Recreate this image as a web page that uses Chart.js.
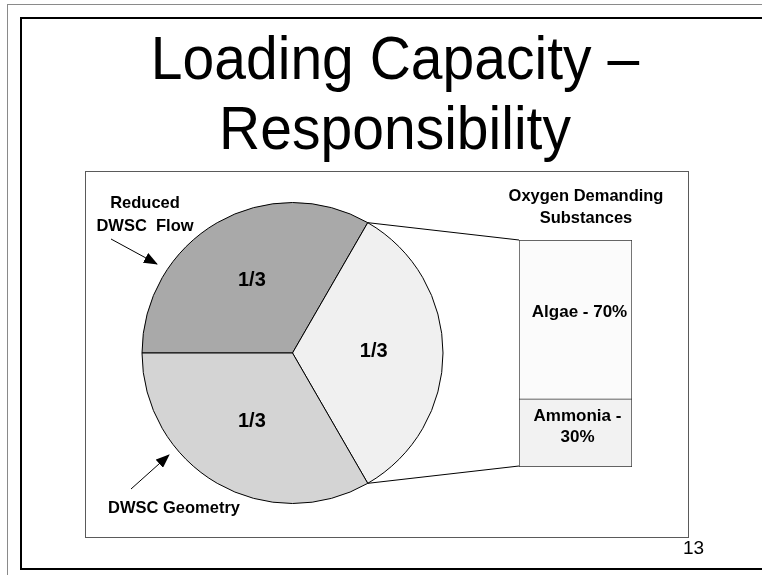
<!DOCTYPE html>
<html>
<head>
<meta charset="utf-8">
<script src="https://cdn.jsdelivr.net/npm/chart.js@4/dist/chart.umd.min.js"></script>
<style>
  html, body { margin: 0; padding: 0; background: #fff; }
  body { width: 762px; height: 575px; position: relative; overflow: hidden; font-family: "Liberation Sans", Arial, sans-serif; color: #000; }
  .abs { position: absolute; }
  #gray-frame { left: 7px; top: 4px; width: 800px; height: 600px; border-left: 1px solid #8a8a8a; border-top: 1px solid #8a8a8a; }
  #black-frame { left: 20px; top: 17px; width: 800px; height: 549px; border: 2px solid #000; }
  #title { left: 0; top: 23px; width: 790px; text-align: center; font-size: 61px; line-height: 70px; transform: scaleX(0.935); transform-origin: 395px 0; }
  #chart-box { left: 85px; top: 171px; width: 602px; height: 365px; border: 1px solid #5a5a5a; }
  .lbl { position: absolute; transform: translate(-50%, -50%) scaleX(0.97); white-space: nowrap; text-align: center; font-weight: bold; font-size: 17px; line-height: 22px; }
  #page-no { left: 683px; top: 537px; font-size: 19px; }
</style>
</head>
<body>
<div id="gray-frame" class="abs"></div>
<div id="black-frame" class="abs"></div>
<div id="title" class="abs">Loading Capacity –<br>Responsibility</div>
<div id="chart-box" class="abs"></div>
<canvas id="pieChart" class="abs" width="762" height="575" style="left:0;top:0"></canvas>
<canvas id="odsChart" class="abs"></canvas>
<svg class="abs" width="762" height="575" style="left:0;top:0">
  <defs>
    <marker id="head" markerWidth="14" markerHeight="11" refX="13" refY="5.5" orient="auto" markerUnits="userSpaceOnUse">
      <path d="M0,0 L14,5.5 L0,11 z" fill="#000"/>
    </marker>
  </defs>
  <line x1="111" y1="239" x2="157" y2="264" stroke="#000" stroke-width="1" marker-end="url(#head)"/>
  <line x1="131" y1="489" x2="169" y2="455" stroke="#000" stroke-width="1" marker-end="url(#head)"/>
</svg>
<div class="lbl" style="left:145px;top:214px;line-height:23px">Reduced<br>DWSC&nbsp; Flow</div>
<div class="lbl" style="left:174px;top:508px">DWSC Geometry</div>
<div class="lbl" style="left:586px;top:207px">Oxygen Demanding<br>Substances</div>
<div id="page-no" class="abs">13</div>

<script>
const pieLabels = ["Reduced DWSC Flow", "Oxygen Demanding Substances", "DWSC Geometry"];
const pieShares = [1, 1, 1];
const pieTexts = ["1/3", "1/3", "1/3"];
const pieColors = ["#a9a9a9", "#f0f0f0", "#d4d4d4"];

const odsParts = ["Algae", "Ammonia"];
const odsShares = [70, 30];
const odsColors = ["#fbfbfb", "#f2f2f2"];

Chart.defaults.font.family = '"Liberation Sans", Arial, sans-serif';

// bar box on the page
const BAR_LEFT = 519, BAR_TOP = 240, BAR_W = 113, BAR_H = 227;
const odsCanvas = document.getElementById("odsChart");
odsCanvas.width = BAR_W;
odsCanvas.height = BAR_H;
odsCanvas.style.left = BAR_LEFT + "px";
odsCanvas.style.top = BAR_TOP + "px";

// "1/3" texts + the two lines to the bar
const pieExtras = {
  id: "pieExtras",
  afterDatasetsDraw(chart) {
    const ctx = chart.ctx;
    const arcs = chart.getDatasetMeta(0).data;
    ctx.save();
    ctx.fillStyle = "#000";
    ctx.font = "bold 20px " + Chart.defaults.font.family;
    ctx.textAlign = "center";
    ctx.textBaseline = "middle";
    arcs.forEach((arc, i) => {
      const mid = (arc.startAngle + arc.endAngle) / 2;
      const r = arc.outerRadius * 0.54;
      ctx.fillText(pieTexts[i], arc.x + Math.cos(mid) * r, arc.y + Math.sin(mid) * r - 2);
    });
    // connectors from the exploded slice to the bar
    const s = arcs[1];
    ctx.strokeStyle = "#000";
    ctx.lineWidth = 1;
    ctx.beginPath();
    ctx.moveTo(s.x + Math.cos(s.startAngle) * s.outerRadius, s.y + Math.sin(s.startAngle) * s.outerRadius);
    ctx.lineTo(BAR_LEFT, BAR_TOP);
    ctx.moveTo(s.x + Math.cos(s.endAngle) * s.outerRadius, s.y + Math.sin(s.endAngle) * s.outerRadius);
    ctx.lineTo(BAR_LEFT, BAR_TOP + BAR_H - 1);
    ctx.stroke();
    ctx.restore();
  },
};

new Chart(document.getElementById("pieChart"), {
  type: "pie",
  data: {
    labels: pieLabels,
    datasets: [{
      data: pieShares,
      backgroundColor: pieColors,
      borderColor: "#000",
      borderWidth: 1,
    }],
  },
  options: {
    responsive: false,
    animation: false,
    devicePixelRatio: 1,
    rotation: -90,
    layout: { padding: { left: 141, top: 202, right: 318, bottom: 71 } },
    plugins: { legend: { display: false }, tooltip: { enabled: false } },
  },
  plugins: [pieExtras],
});

// labels inside the stacked bar
const odsText = {
  id: "odsText",
  afterDatasetsDraw(chart) {
    const ctx = chart.ctx;
    ctx.save();
    ctx.fillStyle = "#000";
    ctx.font = "bold 17px " + Chart.defaults.font.family;
    ctx.textAlign = "center";
    ctx.textBaseline = "middle";
    chart.data.datasets.forEach((ds, i) => {
      const el = chart.getDatasetMeta(i).data[0];
      const cy = (el.y + el.base) / 2 - 7;
      const full = `${ds.label} - ${ds.data[0]}%`;
      if (ctx.measureText(full).width > BAR_W - 12) {
        ctx.fillText(`${ds.label} -`, el.x + 2, cy - 10);
        ctx.fillText(`${ds.data[0]}%`, el.x + 2, cy + 11);
      } else {
        ctx.fillText(full, el.x + 4, cy);
      }
    });
    ctx.restore();
  },
};

// bottom of the stack first
const odsOrder = [1, 0];
new Chart(odsCanvas, {
  type: "bar",
  data: {
    labels: ["Oxygen Demanding Substances"],
    datasets: odsOrder.map((k, n) => ({
      label: odsParts[k],
      data: [odsShares[k]],
      backgroundColor: odsColors[k],
      borderColor: "#333",
      borderWidth: 1,
      borderSkipped: n === 0 ? false : "start",
      barPercentage: 1,
      categoryPercentage: 1,
    })),
  },
  options: {
    responsive: false,
    animation: false,
    devicePixelRatio: 1,
    layout: { padding: 0 },
    scales: {
      x: { stacked: true, display: false },
      y: { stacked: true, display: false, min: 0, max: 100 },
    },
    plugins: { legend: { display: false }, tooltip: { enabled: false } },
  },
  plugins: [odsText],
});
</script>
</body>
</html>
